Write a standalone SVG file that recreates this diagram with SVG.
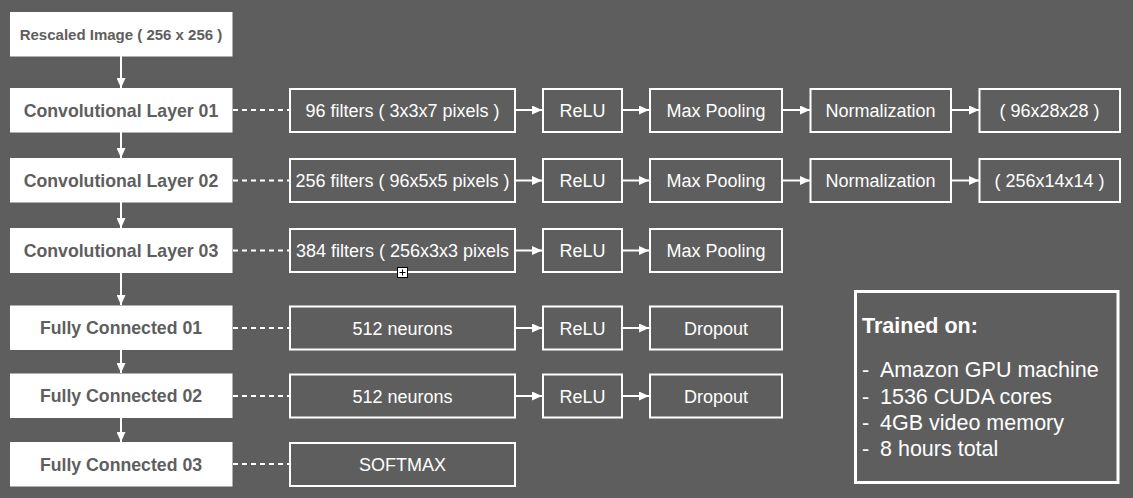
<svg xmlns="http://www.w3.org/2000/svg" width="1133" height="498" viewBox="0 0 1133 498">
<defs>
<style>
.bg{fill:#5e5e5e}
.lbox{fill:#ffffff}
.rbox{fill:none;stroke:#ffffff;stroke-width:2}
.ltxt{font-family:"Liberation Sans",Arial,sans-serif;font-weight:bold;font-size:17.7px;fill:#5e5e5e;text-anchor:middle}
.stxt{font-family:"Liberation Sans",Arial,sans-serif;font-weight:bold;font-size:15px;fill:#5e5e5e;text-anchor:middle}
.rtxt{font-family:"Liberation Sans",Arial,sans-serif;font-size:18px;fill:#ffffff;text-anchor:middle}
.ntxt{font-family:"Liberation Sans",Arial,sans-serif;font-size:21.5px;fill:#ffffff}
.arr{stroke:#ffffff;stroke-width:2;fill:none;marker-end:url(#ah)}
.dash{stroke:#ffffff;stroke-width:2;fill:none;stroke-dasharray:5 4}
</style>
<marker id="ah" markerUnits="userSpaceOnUse" markerWidth="11" markerHeight="9" refX="10" refY="4.5" orient="auto">
<path d="M0,0 L10,4.5 L0,9 z" fill="#ffffff"/>
</marker>
</defs>
<rect class="bg" x="0" y="0" width="1133" height="498"/>

<g id="connectors">
<line class="arr" x1="121" y1="56" x2="121" y2="88"/>
<line class="arr" x1="121" y1="132" x2="121" y2="158"/>
<line class="arr" x1="121" y1="202" x2="121" y2="228"/>
<line class="arr" x1="121" y1="273" x2="121" y2="305"/>
<line class="arr" x1="121" y1="350" x2="121" y2="373"/>
<line class="arr" x1="121" y1="418" x2="121" y2="442"/>

<line class="dash" x1="233" y1="110" x2="290" y2="110"/>
<line class="dash" x1="233" y1="180.5" x2="290" y2="180.5"/>
<line class="dash" x1="233" y1="250.5" x2="290" y2="250.5"/>
<line class="dash" x1="233" y1="328" x2="290" y2="328"/>
<line class="dash" x1="233" y1="396" x2="290" y2="396"/>
<line class="dash" x1="233" y1="464" x2="290" y2="464"/>

<line class="arr" x1="515" y1="110" x2="542" y2="110"/>
<line class="arr" x1="622" y1="110" x2="649" y2="110"/>
<line class="arr" x1="782" y1="110" x2="810" y2="110"/>
<line class="arr" x1="951" y1="110" x2="979" y2="110"/>

<line class="arr" x1="515" y1="180.5" x2="542" y2="180.5"/>
<line class="arr" x1="622" y1="180.5" x2="649" y2="180.5"/>
<line class="arr" x1="782" y1="180.5" x2="810" y2="180.5"/>
<line class="arr" x1="951" y1="180.5" x2="979" y2="180.5"/>

<line class="arr" x1="515" y1="250.5" x2="542" y2="250.5"/>
<line class="arr" x1="622" y1="250.5" x2="649" y2="250.5"/>

<line class="arr" x1="515" y1="328" x2="542" y2="328"/>
<line class="arr" x1="622" y1="328" x2="649" y2="328"/>

<line class="arr" x1="515" y1="396" x2="542" y2="396"/>
<line class="arr" x1="622" y1="396" x2="649" y2="396"/>
</g>

<g id="rescaled"><rect class="lbox" x="10" y="12" width="222.5" height="44.5"/><text class="stxt" x="121" y="40">Rescaled Image ( 256 x 256 )</text></g>
<g id="conv1"><rect class="lbox" x="10" y="88" width="222.5" height="44.5"/><text class="ltxt" x="121" y="116.8">Convolutional Layer 01</text></g>
<g id="conv2"><rect class="lbox" x="10" y="158" width="222.5" height="44.5"/><text class="ltxt" x="121" y="186.8">Convolutional Layer 02</text></g>
<g id="conv3"><rect class="lbox" x="10" y="228" width="222.5" height="45"/><text class="ltxt" x="121" y="257">Convolutional Layer 03</text></g>
<g id="fc1"><rect class="lbox" x="10" y="305.5" width="222.5" height="44.5"/><text class="ltxt" x="121" y="334.3">Fully Connected 01</text></g>
<g id="fc2"><rect class="lbox" x="10" y="373.5" width="222.5" height="44.5"/><text class="ltxt" x="121" y="402.3">Fully Connected 02</text></g>
<g id="fc3"><rect class="lbox" x="10" y="442" width="222.5" height="44.5"/><text class="ltxt" x="121" y="470.5">Fully Connected 03</text></g>

<g id="r1filters"><rect class="rbox" x="290" y="89" width="225" height="43"/><text class="rtxt" x="402.5" y="116.8">96 filters ( 3x3x7 pixels )</text></g>
<g id="r1relu"><rect class="rbox" x="543" y="89" width="79" height="43"/><text class="rtxt" x="582.5" y="116.8">ReLU</text></g>
<g id="r1pool"><rect class="rbox" x="650" y="89" width="132" height="43"/><text class="rtxt" x="716" y="116.8">Max Pooling</text></g>
<g id="r1norm"><rect class="rbox" x="810.5" y="89" width="140.5" height="43"/><text class="rtxt" x="880.5" y="116.8">Normalization</text></g>
<g id="r1out"><rect class="rbox" x="979.5" y="89" width="140.5" height="43"/><text class="rtxt" x="1049.5" y="116.8">( 96x28x28 )</text></g>

<g id="r2filters"><rect class="rbox" x="290" y="159" width="225" height="43"/><text class="rtxt" x="402.5" y="187.3">256 filters ( 96x5x5 pixels )</text></g>
<g id="r2relu"><rect class="rbox" x="543" y="159" width="79" height="43"/><text class="rtxt" x="582.5" y="187.3">ReLU</text></g>
<g id="r2pool"><rect class="rbox" x="650" y="159" width="132" height="43"/><text class="rtxt" x="716" y="187.3">Max Pooling</text></g>
<g id="r2norm"><rect class="rbox" x="810.5" y="159" width="140.5" height="43"/><text class="rtxt" x="880.5" y="187.3">Normalization</text></g>
<g id="r2out"><rect class="rbox" x="979.5" y="159" width="140.5" height="43"/><text class="rtxt" x="1049.5" y="187.3">( 256x14x14 )</text></g>

<g id="r3filters"><rect class="rbox" x="290" y="229" width="225" height="43"/><text class="rtxt" x="402.5" y="257.3">384 filters ( 256x3x3 pixels</text></g>
<g id="r3relu"><rect class="rbox" x="543" y="229" width="79" height="43"/><text class="rtxt" x="582.5" y="257.3">ReLU</text></g>
<g id="r3pool"><rect class="rbox" x="650" y="229" width="132" height="43"/><text class="rtxt" x="716" y="257.3">Max Pooling</text></g>
<g id="overflow"><rect x="397.5" y="267.5" width="10" height="10" fill="#ffffff" stroke="#000000" stroke-width="1"/><path d="M402.5,269.5 V275.5 M399.5,272.5 H405.5" stroke="#000000" stroke-width="1"/></g>

<g id="fc1neurons"><rect class="rbox" x="290" y="306.5" width="225" height="43"/><text class="rtxt" x="402.5" y="334.8">512 neurons</text></g>
<g id="fc1relu"><rect class="rbox" x="543" y="306.5" width="79" height="43"/><text class="rtxt" x="582.5" y="334.8">ReLU</text></g>
<g id="fc1drop"><rect class="rbox" x="650" y="306.5" width="132" height="43"/><text class="rtxt" x="716" y="334.8">Dropout</text></g>

<g id="fc2neurons"><rect class="rbox" x="290" y="374.5" width="225" height="43"/><text class="rtxt" x="402.5" y="402.8">512 neurons</text></g>
<g id="fc2relu"><rect class="rbox" x="543" y="374.5" width="79" height="43"/><text class="rtxt" x="582.5" y="402.8">ReLU</text></g>
<g id="fc2drop"><rect class="rbox" x="650" y="374.5" width="132" height="43"/><text class="rtxt" x="716" y="402.8">Dropout</text></g>

<g id="fc3softmax"><rect class="rbox" x="290" y="443" width="225" height="43"/><text class="rtxt" x="402.5" y="470.8">SOFTMAX</text></g>

<g id="trained">
<rect x="855.5" y="291.5" width="262.5" height="191" fill="none" stroke="#ffffff" stroke-width="3"/>
<text class="ntxt" x="862" y="333" font-weight="bold">Trained on:</text>
<text class="ntxt" y="377"><tspan x="862">-</tspan><tspan x="880">Amazon GPU machine</tspan></text>
<text class="ntxt" y="403.5"><tspan x="862">-</tspan><tspan x="880">1536 CUDA cores</tspan></text>
<text class="ntxt" y="430"><tspan x="862">-</tspan><tspan x="880">4GB video memory</tspan></text>
<text class="ntxt" y="456"><tspan x="862">-</tspan><tspan x="880">8 hours total</tspan></text>
</g>
</svg>
